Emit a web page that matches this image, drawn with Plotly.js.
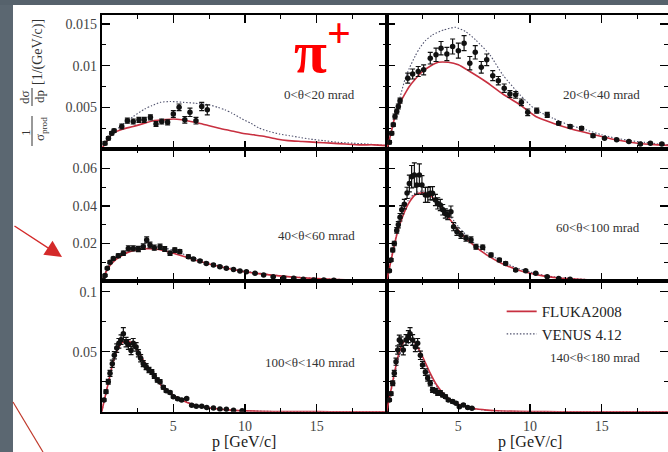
<!DOCTYPE html>
<html><head><meta charset="utf-8">
<script src="https://cdn.plot.ly/plotly-3.0.1.min.js"></script>
<style>html,body{margin:0;padding:0;background:#fff}#chart{width:668px;height:452px}</style>
</head><body><div id="chart"></div>
<script>
// ---------- data ----------
const panelLabels = ["0&lt;θ&lt;20 mrad","20&lt;θ&lt;40 mrad","40&lt;θ&lt;60 mrad","60&lt;θ&lt;100 mrad","100&lt;θ&lt;140 mrad","140&lt;θ&lt;180 mrad"];
const seriesNames = ["FLUKA2008","VENUS 4.12"];

// panel 1 : 0<θ<20 mrad
const p1 = [0.23,0.47,0.70,0.86,1.4,1.79,2.2,2.6,2.97,3.4,3.79,4.19,4.6,5.0,5.4,5.8,6.16,6.58,6.98,7.37];
const v1 = [0.0007,0.0013,0.0019,0.0022,0.0027,0.0034,0.0033,0.0035,0.0035,0.0038,0.0030,0.0033,0.0032,0.0042,0.0050,0.0035,0.0044,0.0034,0.0051,0.0047];
const e1 = [0.0002,0.0002,0.0002,0.0002,0.0003,0.0003,0.0003,0.0003,0.0003,0.0003,0.0003,0.0003,0.0003,0.0004,0.0004,0.0004,0.0005,0.0004,0.0005,0.0006];
const flukaP1 = [0,0.3,0.8,1.5,2.2,3.0,3.6,4.3,5.0,5.6,6.2,6.8,7.5,8.2,9.0,9.8,10.6,11.4,12.2,13.0,14.0,15.0,16.0,17.0,18.0,19.0,20];
const flukaV1 = [0,0.0008,0.0019,0.0024,0.0027,0.0031,0.0034,0.0035,0.0036,0.0035,0.0033,0.0031,0.0028,0.0025,0.0022,0.0019,0.0017,0.0015,0.0012,0.0010,0.0009,0.0008,0.0007,0.0006,0.0005,0.0005,0.0004];
const venusP1 = [0,0.3,0.8,1.3,2.2,3.0,3.5,4.1,4.8,5.7,6.5,7.5,8.1,8.6,9.1,9.7,10.4,11.0,11.7,12.4,13.1,13.8,14.5,15.5,16.5,17.5,18.5,20];
const venusV1 = [0,0.0008,0.0019,0.0027,0.0039,0.0048,0.0052,0.0056,0.0057,0.0056,0.0055,0.0053,0.0050,0.0047,0.0043,0.0037,0.0031,0.0025,0.0021,0.0018,0.0016,0.0014,0.0012,0.0010,0.0008,0.0007,0.0006,0.0004];

// panel 2 : 20<θ<40 mrad
const p2 = [0.19,0.35,0.46,0.58,0.70,0.81,0.93,1.47,1.81,2.2,2.58,3.04,3.44,3.79,4.2,4.6,5.0,5.4,5.8,6.18,6.6,6.98,7.4,7.79,8.2,8.6,9.0,9.4,9.84,10.47,11.2,12.0,12.8,13.6,14.4,15.2,16.05,16.9,17.7,18.4,19.2];
const v2 = [0.0008,0.0019,0.0029,0.0039,0.0045,0.0051,0.0058,0.0085,0.0090,0.0093,0.0095,0.0109,0.0113,0.0121,0.0114,0.0123,0.0118,0.0127,0.0103,0.0116,0.0098,0.0107,0.0088,0.0082,0.0073,0.0066,0.0065,0.0056,0.0044,0.0046,0.0041,0.0031,0.0027,0.0025,0.0016,0.0013,0.0011,0.0009,0.0006,0.0007,0.0006];
const e2 = [0.0002,0.0002,0.0002,0.0003,0.0003,0.0003,0.0003,0.0006,0.0006,0.0006,0.0006,0.0007,0.0008,0.0008,0.0008,0.0009,0.0009,0.0009,0.0008,0.0008,0.0007,0.0007,0.0006,0.0005,0.0005,0.0004,0.0004,0.0004,0.0004,0.0003,0.0003,0.0002,0.0002,0.0002,0.0002,0.0001,0.0001,0.0001,0.0001,0.0001,0.0001];
const flukaP2 = [0,0.2,0.5,0.93,1.3,1.58,2.0,2.5,3.0,3.6,4.3,5.0,5.8,6.9,8.1,9.3,10.4,11.6,12.7,13.8,15.0,16.0,17.0,18.0,19.0,20];
const flukaV2 = [0,0.0012,0.0034,0.0055,0.0067,0.0075,0.0084,0.0093,0.0099,0.0104,0.0104,0.0101,0.0093,0.0081,0.0066,0.0053,0.0039,0.0031,0.0025,0.0020,0.0015,0.0011,0.0008,0.0006,0.0005,0.0004];
const venusP2 = [0,0.2,0.5,0.93,1.3,1.58,2.0,2.3,2.7,3.2,4.0,4.8,5.5,6.2,7.2,8.1,9.3,10.4,11.6,12.7,13.9,15.0,16.0,17.0,18.0,19.0,20];
const venusV2 = [0,0.0012,0.0035,0.0062,0.0085,0.0097,0.0112,0.0121,0.0130,0.0137,0.0143,0.0146,0.0141,0.0131,0.0113,0.0089,0.0065,0.0047,0.0037,0.0029,0.0023,0.0017,0.0013,0.0010,0.0008,0.0006,0.0005];

// panel 3 : 40<θ<60 mrad
const p3 = [0.11,0.23,0.39,0.58,0.81,1.16,1.51,1.86,2.2,2.56,2.9,3.14,3.37,3.67,4.07,4.4,4.77,5.1,5.45,6.05,6.4,6.86,7.3,7.8,8.25,8.7,9.2,9.65,10.1,10.7,11.3,11.97,12.7,13.4,14.07,14.8,15.5,16.2];
const v3 = [0.0005,0.003,0.0068,0.010,0.012,0.0135,0.0148,0.0174,0.0174,0.0171,0.0183,0.0219,0.0192,0.0178,0.0183,0.0171,0.0148,0.0165,0.0157,0.013,0.0117,0.0107,0.0094,0.0085,0.0076,0.0068,0.0062,0.0053,0.005,0.0041,0.0032,0.0023,0.0018,0.0015,0.0009,0.0006,0.0005,0.0004];
const e3 = [0.0003,0.0005,0.0006,0.0007,0.0008,0.001,0.0012,0.0014,0.0014,0.0014,0.0015,0.0016,0.0015,0.0014,0.0014,0.0013,0.0012,0.0012,0.0011,0.0009,0.0008,0.0007,0.0006,0.0005,0.0005,0.0004,0.0004,0.0003,0.0003,0.0003,0.0002,0.0002,0.0002,0.0001,0.0001,0.0001,0.0001,0.0001];
const flukaP3 = [0,0.25,0.5,1,1.5,2,3,4,5,6,7,8,9,10,12,14,16,18,20];
const flukaV3 = [0,0.004,0.0075,0.0115,0.014,0.0158,0.0172,0.0168,0.0148,0.0124,0.0101,0.0081,0.0064,0.0049,0.003,0.0017,0.0009,0.0005,0.0003];
const venusP3 = [0,0.25,0.5,1,1.5,2,3,4,5,6,7,8,9,10,12,14,16,18,20];
const venusV3 = [0,0.0045,0.0085,0.0128,0.0155,0.0172,0.0188,0.0185,0.0163,0.0134,0.0109,0.0087,0.0069,0.0053,0.0032,0.0018,0.001,0.0006,0.0003];

// panel 4 : 60<θ<100 mrad
const p4 = [0.19,0.3,0.42,0.53,0.7,0.81,0.93,1.05,1.23,1.42,1.58,1.74,1.93,2.1,2.28,2.46,2.7,2.87,3.04,3.2,3.4,3.56,3.74,3.91,4.09,4.26,4.48,4.67,4.9,5.18,5.53,5.88,6.23,6.7,7.28,7.86,8.3,9.0,9.7,10.4,11.2,12.0,12.8];
const v4 = [0.0055,0.0112,0.0165,0.020,0.027,0.030,0.034,0.038,0.041,0.047,0.052,0.0556,0.0565,0.0512,0.0565,0.0512,0.0459,0.0459,0.0468,0.0468,0.0432,0.0414,0.0405,0.038,0.036,0.0352,0.037,0.029,0.0263,0.0245,0.0228,0.022,0.0183,0.018,0.0139,0.0112,0.0094,0.0059,0.0055,0.0041,0.0023,0.0014,0.0009];
const e4 = [0.0006,0.0008,0.001,0.0012,0.0015,0.0017,0.002,0.0022,0.0025,0.003,0.0045,0.006,0.0065,0.005,0.006,0.005,0.004,0.004,0.0035,0.0035,0.003,0.003,0.003,0.0028,0.0025,0.0025,0.003,0.0022,0.002,0.0018,0.0016,0.0015,0.0013,0.0012,0.001,0.0009,0.0008,0.0006,0.0005,0.0004,0.0003,0.0002,0.0002];
const flukaP4 = [0,0.25,0.5,0.75,1,1.5,2,2.5,3,3.5,4,4.5,5,6,7,8,9,10,11,12,14,16,18,20];
const flukaV4 = [0,0.009,0.018,0.026,0.032,0.041,0.046,0.047,0.046,0.042,0.037,0.032,0.027,0.0195,0.0138,0.0095,0.0063,0.0041,0.0026,0.0016,0.0007,0.0003,0.0002,0.0001];
const venusP4 = [0,0.25,0.5,0.75,1,1.5,2,2.5,3,3.5,4,4.5,5,6,7,8,9,10,11,12,14,16,18,20];
const venusV4 = [0,0.009,0.019,0.027,0.034,0.043,0.047,0.048,0.047,0.044,0.039,0.034,0.029,0.021,0.0152,0.0106,0.0072,0.0048,0.003,0.0019,0.0008,0.0004,0.0002,0.0001];

// panel 5 : 100<θ<140 mrad
const p5 = [0.16,0.3,0.46,0.58,0.74,0.88,1.05,1.2,1.35,1.51,1.7,1.86,2.05,2.2,2.4,2.56,2.72,2.9,3.1,3.3,3.5,3.67,3.88,4.07,4.3,4.5,4.77,5.0,5.3,5.58,5.93,6.28,6.6,6.98,7.33,7.8,8.25,8.7,9.2,9.8];
const v5 = [0.0098,0.0167,0.025,0.032,0.040,0.047,0.053,0.057,0.060,0.065,0.058,0.056,0.051,0.057,0.054,0.0487,0.0445,0.040,0.0375,0.0348,0.033,0.0297,0.0264,0.025,0.0203,0.0175,0.016,0.0125,0.0108,0.0098,0.0109,0.0053,0.0045,0.0045,0.0036,0.003,0.0022,0.002,0.0012,0.0008];
const e5 = [0.001,0.0015,0.002,0.0025,0.003,0.003,0.0035,0.004,0.004,0.005,0.004,0.004,0.0035,0.004,0.0035,0.003,0.003,0.0025,0.0025,0.0022,0.002,0.002,0.0018,0.0017,0.0015,0.0013,0.0012,0.001,0.001,0.0009,0.0009,0.0007,0.0006,0.0006,0.0005,0.0004,0.0004,0.0003,0.0003,0.0002];
const flukaP5 = [0,0.25,0.5,0.75,1,1.25,1.5,1.75,2,2.5,3,3.5,4,4.5,5,6,7,8,9,10,12,14,16,20];
const flukaV5 = [0,0.013,0.026,0.039,0.049,0.055,0.058,0.059,0.058,0.051,0.041,0.032,0.024,0.018,0.0135,0.0075,0.0042,0.0024,0.0013,0.0007,0.0002,0.0001,0,0];
const venusP5 = [0,0.25,0.5,0.75,1,1.25,1.5,1.75,2,2.5,3,3.5,4,4.5,5,6,7,8,9,10,12,14,16,20];
const venusV5 = [0,0.013,0.027,0.040,0.050,0.056,0.059,0.060,0.058,0.052,0.042,0.033,0.025,0.019,0.0142,0.008,0.0045,0.0025,0.0014,0.0008,0.0002,0.0001,0,0];

// panel 6 : 140<θ<180 mrad
const p6 = [0.19,0.3,0.42,0.53,0.65,0.77,0.88,1.0,1.16,1.35,1.51,1.63,1.81,2.0,2.16,2.35,2.5,2.7,2.86,3.04,3.2,3.4,3.56,3.74,3.9,4.1,4.3,4.6,4.84,5.07,5.35,5.65,5.95];
const v6 = [0.0098,0.015,0.0237,0.032,0.0417,0.0514,0.0598,0.0583,0.0514,0.0598,0.0625,0.065,0.0598,0.054,0.057,0.047,0.039,0.033,0.028,0.0237,0.018,0.0175,0.0153,0.0158,0.014,0.0125,0.0098,0.0084,0.007,0.0042,0.0056,0.0036,0.0028];
const e6 = [0.001,0.0015,0.002,0.0025,0.003,0.0035,0.004,0.004,0.004,0.0045,0.005,0.005,0.0045,0.004,0.004,0.0035,0.003,0.0028,0.0025,0.0022,0.002,0.002,0.0018,0.0018,0.0016,0.0015,0.0013,0.0012,0.001,0.0009,0.0009,0.0007,0.0006];
const flukaP6 = [0,0.25,0.5,0.75,1,1.25,1.5,1.75,2,2.5,3,3.5,4,4.5,5,6,7,8,10,12,20];
const flukaV6 = [0,0.015,0.03,0.044,0.054,0.059,0.061,0.060,0.057,0.046,0.033,0.022,0.0145,0.0095,0.0062,0.0028,0.0013,0.0006,0.0001,0,0];
const venusP6 = [0,0.25,0.5,0.75,1,1.25,1.5,1.75,2,2.5,3,3.5,4,4.5,5,6,7,8,10,12,20];
const venusV6 = [0,0.014,0.028,0.041,0.050,0.055,0.057,0.056,0.054,0.044,0.031,0.021,0.0135,0.0088,0.0057,0.0025,0.0011,0.0005,0.0001,0,0];

// tick labels
const xTickVals = [5,10,15];
const xTickText = ["5","10","15"];
const yTickVals1 = [0.005,0.01,0.015], yTickText1 = ["0.005","0.01","0.015"];
const yTickVals2 = [0.02,0.04,0.06],  yTickText2 = ["0.02","0.04","0.06"];
const yTickVals3 = [0.05,0.1],        yTickText3 = ["0.05","0.1"];
const xTitle = "p [GeV/c]";

// ---------- assembly ----------
const pts = [[p1,v1,e1],[p2,v2,e2],[p3,v3,e3],[p4,v4,e4],[p5,v5,e5],[p6,v6,e6]];
const fluka = [[flukaP1,flukaV1],[flukaP2,flukaV2],[flukaP3,flukaV3],[flukaP4,flukaV4],[flukaP5,flukaV5],[flukaP6,flukaV6]];
const venus = [[venusP1,venusV1],[venusP2,venusV2],[venusP3,venusV3],[venusP4,venusV4],[venusP5,venusV5],[venusP6,venusV6]];

const W = 668, H = 452;
const colL = [101.7/W, 386.7/W], colR = [386.7/W, 1];
const rows = [[(H-149)/H, (H-15)/H], [(H-281)/H, (H-149)/H], [(H-411.7)/H, (H-281)/H]];
const yRanges = [[0, 0.01608], [0, 0.0704], [0, 0.1089]];
const yTicks = [[yTickVals1,yTickText1,0.0025],[yTickVals2,yTickText2,0.01],[yTickVals3,yTickText3,0.025]];
const xRangeL = [0, 19.89], xRangeR = [0, 19.63];

const serif = "Liberation Serif, Times New Roman, serif";
const traces = [];
const layout = {
  width: W, height: H, autosize: false,
  margin: {l:0, r:0, t:0, b:0},
  paper_bgcolor: '#ffffff', plot_bgcolor: 'rgba(0,0,0,0)',
  showlegend: true,
  legend: {x: 0.751, y: 0.347, xanchor: 'left', yanchor: 'top', bgcolor: 'rgba(0,0,0,0)',
           font: {family: serif, size: 15, color: '#222'}, tracegroupgap: 0, itemwidth: 30},
  annotations: [], shapes: []
};

for (let i = 0; i < 6; i++) {
  const r = Math.floor(i/2), c = i % 2;
  const xa = 'x' + (i === 0 ? '' : (i+1)), ya = 'y' + (i === 0 ? '' : (i+1));
  const xk = 'xaxis' + (i === 0 ? '' : (i+1)), yk = 'yaxis' + (i === 0 ? '' : (i+1));
  layout[xk] = {
    domain: c === 0 ? colL : colR, range: c === 0 ? xRangeL : xRangeR, anchor: ya,
    showline: true, linecolor: '#000', linewidth: 2, mirror: 'ticks',
    ticks: 'inside', ticklen: 8, tickwidth: 1.5, tickcolor: '#000',
    tickmode: 'array', tickvals: xTickVals, ticktext: xTickText,
    showticklabels: r === 2, tickfont: {family: serif, size: 14, color: '#444'},
    minor: {tickmode: 'linear', tick0: 0, dtick: 2.5, ticklen: 4, tickwidth: 1, tickcolor: '#000', ticks: 'inside', showgrid: false},
    showgrid: false, zeroline: false, fixedrange: true
  };
  layout[yk] = {
    domain: rows[r], range: yRanges[r], anchor: xa,
    showline: true, linecolor: '#000', linewidth: 2, mirror: 'ticks',
    ticks: 'inside', ticklen: 8, tickwidth: 1.5, tickcolor: '#000',
    tickmode: 'array', tickvals: yTicks[r][0], ticktext: yTicks[r][1],
    showticklabels: c === 0, tickfont: {family: serif, size: 14, color: '#444'},
    minor: {tickmode: 'linear', tick0: 0, dtick: yTicks[r][2], ticklen: 4, tickwidth: 1, tickcolor: '#000', ticks: 'inside', showgrid: false},
    showgrid: false, zeroline: false, fixedrange: true
  };
  traces.push({
    type: 'scatter', mode: 'lines', x: venus[i][0], y: venus[i][1], xaxis: xa, yaxis: ya,
    name: seriesNames[1], legendgroup: 'v', showlegend: i === 0, legendrank: 2,
    line: {color: '#50526e', width: 1.1, dash: '1.5px,1.8px', shape: 'spline', smoothing: 0.6}
  });
  traces.push({
    type: 'scatter', mode: 'lines', x: fluka[i][0], y: fluka[i][1], xaxis: xa, yaxis: ya,
    name: seriesNames[0], legendgroup: 'f', showlegend: i === 0, legendrank: 1,
    line: {color: '#c83040', width: 1.6, shape: 'spline', smoothing: 0.6}
  });
  traces.push({
    type: 'scatter', mode: 'markers', x: pts[i][0], y: pts[i][1], xaxis: xa, yaxis: ya,
    name: 'data', showlegend: false,
    marker: {color: '#111', size: 5.5, symbol: 'circle'},
    error_y: {type: 'data', array: pts[i][2], visible: true, color: '#111', thickness: 1.2, width: 2.5}
  });
  layout.annotations.push({
    xref: xa, yref: ya, x: 17.8, y: [0.0065, 0.0065, 0.0245, 0.0288, 0.0406, 0.0448][i],
    xanchor: 'right', yanchor: 'middle', showarrow: false, text: panelLabels[i],
    font: {family: serif, size: 13, color: '#333'}
  });
}

// x-axis titles
[244, 530].forEach(function (cx) {
  layout.annotations.push({xref: 'paper', yref: 'paper', x: cx/W, y: 1 - 442/H, xanchor: 'center', yanchor: 'middle',
    showarrow: false, text: xTitle, font: {family: serif, size: 16, color: '#1a1a1a'}});
});
// particle label
layout.annotations.push({xref: 'paper', yref: 'paper', x: 322/W, y: 1 - 47/H, xanchor: 'center', yanchor: 'middle',
  showarrow: false, text: 'π<sup>+</sup>', font: {family: serif, size: 60, color: '#ff0000', weight: 'bold'}});
// y-axis title, built as stacked fractions (rotated)
function rot(txt, px, py, size) {
  layout.annotations.push({xref: 'paper', yref: 'paper', x: px/W, y: 1 - py/H, xanchor: 'center', yanchor: 'middle',
    showarrow: false, textangle: -90, text: txt, font: {family: serif, size: size, color: '#333'}});
}
rot('1', 25, 132, 13);
rot('σ<sub>prod</sub>', 40, 129, 13);
rot('dσ', 25, 97, 13);
rot('dp', 40, 97, 13);
rot('[1/(GeV/c)]', 38, 52, 14);
layout.shapes.push({type: 'line', xref: 'paper', yref: 'paper', x0: 32/W, x1: 32/W, y0: 1 - 146/H, y1: 1 - 116/H, line: {color: '#333', width: 1}});
layout.shapes.push({type: 'line', xref: 'paper', yref: 'paper', x0: 32/W, x1: 32/W, y0: 1 - 106/H, y1: 1 - 88/H, line: {color: '#333', width: 1}});
// slide decorations: red arrow
layout.annotations.push({xref: 'paper', yref: 'paper', x: 62/W, y: 1 - 257/H, ax: -49, ay: -32, axref: 'pixel', ayref: 'pixel',
  showarrow: true, arrowhead: 2, arrowsize: 2.4, arrowwidth: 1.4, arrowcolor: '#d42a2a', text: ''});
// slide background strips and red line
layout.shapes.push({type: 'rect', xref: 'paper', yref: 'paper', x0: 0, x1: 13/W, y0: 0, y1: 1, fillcolor: '#5b6771', line: {width: 0}});
layout.shapes.push({type: 'rect', xref: 'paper', yref: 'paper', x0: 0, x1: 1, y0: 1 - 5/H, y1: 1, fillcolor: '#56626c', line: {width: 0}});
layout.shapes.push({type: 'line', xref: 'paper', yref: 'paper', x0: 13/W, y0: 1 - 402/H, x1: 43/W, y1: 0, line: {color: '#c0392b', width: 1.2}});

Plotly.newPlot('chart', traces, layout, {staticPlot: true, displayModeBar: false});
</script></body></html>
